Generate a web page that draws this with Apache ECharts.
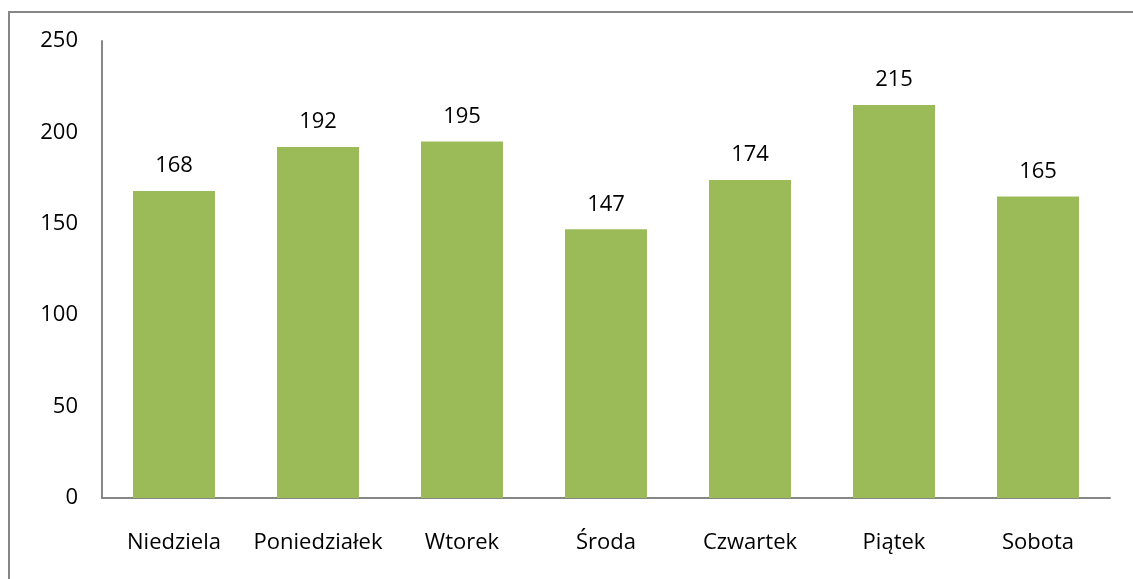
<!DOCTYPE html>
<html>
<head>
<meta charset="utf-8">
<script src="https://cdn.jsdelivr.net/npm/echarts@6/dist/echarts.min.js"></script>
<style>
  html, body { margin: 0; padding: 0; background: #fff; }
  #chart { width: 1133px; height: 579px; }
</style>
</head>
<body>
<div id="chart"></div>
<script>
// dni tygodnia i wartości
const categories = ['Niedziela', 'Poniedziałek', 'Wtorek', 'Środa', 'Czwartek', 'Piątek', 'Sobota'];
const values = [168, 192, 195, 147, 174, 215, 165];
const yTicks = [0, 50, 100, 150, 200, 250];

const chart = echarts.init(document.getElementById('chart'));
const font = 'Open Sans, Noto Sans, sans-serif';

chart.setOption({
  backgroundColor: '#fff',
  animation: false,
  // ramka wokół wykresu
  graphic: [{
    type: 'rect',
    shape: { x: 9, y: 12, width: 1140, height: 600 },
    style: { fill: 'none', stroke: '#868686', lineWidth: 2 }
  }],
  grid: {
    left: 102,
    right: 23,
    top: 41,
    bottom: 81
  },
  xAxis: {
    type: 'category',
    data: categories,
    axisTick: { show: false },
    axisLine: { lineStyle: { color: '#868686', width: 2 } },
    axisLabel: {
      interval: 0,
      margin: 34,
      fontSize: 22,
      fontFamily: font,
      color: '#000'
    }
  },
  yAxis: {
    type: 'value',
    min: yTicks[0],
    max: yTicks[yTicks.length - 1],
    interval: 50,
    axisTick: { show: false },
    axisLine: { show: true, lineStyle: { color: '#868686', width: 2 } },
    splitLine: { show: false },
    axisLabel: {
      margin: 24,
      fontSize: 22,
      fontFamily: font,
      color: '#000'
    }
  },
  series: [{
    type: 'bar',
    data: values,
    barWidth: 82,
    itemStyle: { color: '#9BBB59' },
    label: {
      show: true,
      position: 'top',
      distance: 14,
      fontSize: 22,
      fontFamily: font,
      color: '#000'
    }
  }]
});
</script>
</body>
</html>
